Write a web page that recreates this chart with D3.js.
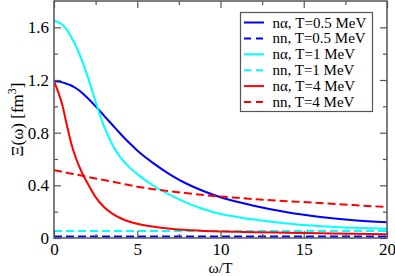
<!DOCTYPE html>
<html>
<head>
<meta charset="utf-8">
<script src="https://cdn.jsdelivr.net/npm/d3@7"></script>
<style>
  body { margin: 0; background: #fff; }
  svg text { font-family: "Liberation Serif", "Times New Roman", serif; fill: #000; }
</style>
</head>
<body>
<svg id="chart" width="395" height="276"></svg>
<script>
const svg = d3.select("#chart");
const width = 395, height = 276;
const margin = {left: 54, right: 8, top: 1, bottom: 38};

// omega/T sample points
const omega = [0, 0.25, 0.5, 0.75, 1, 1.25, 1.5, 1.75, 2, 2.5, 3, 3.5, 4, 4.5, 5, 6, 7, 8, 9, 10, 11, 12, 14, 16, 18, 20];

// Xi(omega) values
const naT05 = [1.19, 1.188, 1.182, 1.172, 1.16, 1.143, 1.122, 1.095, 1.065, 1.0, 0.93, 0.86, 0.79, 0.725, 0.665, 0.565, 0.48, 0.41, 0.355, 0.31, 0.275, 0.245, 0.195, 0.16, 0.135, 0.12];
const nnT05 = [0.012, 0.012, 0.012, 0.012, 0.012, 0.012, 0.012, 0.012, 0.012, 0.012, 0.012, 0.012, 0.012, 0.012, 0.012, 0.012, 0.012, 0.012, 0.012, 0.012, 0.012, 0.012, 0.012, 0.012, 0.012, 0.012];
const naT1 = [1.65, 1.64, 1.62, 1.585, 1.535, 1.475, 1.405, 1.325, 1.235, 1.035, 0.85, 0.71, 0.61, 0.54, 0.485, 0.395, 0.325, 0.265, 0.218, 0.183, 0.16, 0.14, 0.11, 0.09, 0.078, 0.07];
const nnT1 = [0.054, 0.054, 0.054, 0.054, 0.054, 0.054, 0.054, 0.054, 0.054, 0.054, 0.054, 0.054, 0.054, 0.054, 0.054, 0.054, 0.054, 0.054, 0.054, 0.054, 0.054, 0.054, 0.054, 0.054, 0.054, 0.054];
const naT4 = [1.19, 1.11, 1.01, 0.87, 0.735, 0.63, 0.548, 0.478, 0.42, 0.31, 0.235, 0.185, 0.15, 0.125, 0.108, 0.085, 0.07, 0.06, 0.054, 0.05, 0.047, 0.044, 0.04, 0.036, 0.032, 0.029];
const nnT4 = [0.515, 0.509, 0.503, 0.496, 0.49, 0.484, 0.478, 0.471, 0.465, 0.452, 0.44, 0.428, 0.415, 0.402, 0.39, 0.37, 0.355, 0.34, 0.326, 0.315, 0.305, 0.295, 0.28, 0.265, 0.25, 0.235];

const seriesNames = ["n\u03b1, T=0.5 MeV", "nn, T=0.5 MeV", "n\u03b1, T=1 MeV", "nn, T=1 MeV", "n\u03b1, T=4 MeV", "nn, T=4 MeV"];
const seriesColors = ["#0000ff", "#0000ff", "#00ffff", "#00ffff", "#ff0000", "#ff0000"];
const seriesDashed = [false, true, false, true, false, true];
const seriesValues = [naT05, nnT05, naT1, nnT1, naT4, nnT4];

const xTicks = [0, 5, 10, 15, 20];
const yTicks = [0, 0.4, 0.8, 1.2, 1.6];

const x = d3.scaleLinear().domain([0, 20]).range([margin.left, width - margin.right]);
const y = d3.scaleLinear().domain([0, 1.8]).range([height - margin.bottom, margin.top]);

svg.append("clipPath").attr("id", "clip")
  .append("rect")
  .attr("x", x(0)).attr("y", y(1.8))
  .attr("width", x(20) - x(0)).attr("height", y(0) - y(1.8));

const line = d3.line()
  .x(d => x(d[0]))
  .y(d => y(d[1]))
  .curve(d3.curveMonotoneX);

const plot = svg.append("g").attr("clip-path", "url(#clip)");
seriesValues.forEach((vals, i) => {
  plot.append("path")
    .datum(omega.map((w, j) => [w, vals[j]]))
    .attr("fill", "none")
    .attr("stroke", seriesColors[i])
    .attr("stroke-width", 2)
    .attr("stroke-dasharray", seriesDashed[i] ? "8,4" : null)
    .attr("d", line);
});

// frame and ticks (inward, all four sides)
const axisColor = "#555";
const xAxisB = d3.axisBottom(x).tickValues(xTicks).tickSize(-7).tickFormat(d3.format("d")).tickPadding(5);
const xAxisT = d3.axisTop(x).tickValues(xTicks).tickSize(-7).tickFormat("");
const yAxisL = d3.axisLeft(y).tickValues(yTicks).tickSize(-7).tickFormat(d => d === 0 ? "0" : d3.format(".1f")(d)).tickPadding(5);
const yAxisR = d3.axisRight(y).tickValues(yTicks).tickSize(-7).tickFormat("");
const xMinor = d3.range(2.5, 20, 5);
const yMinor = d3.range(0.2, 1.8, 0.4);

function styleAxis(g) {
  g.attr("font-family", null).attr("font-size", null);
  g.select(".domain").remove();
  g.selectAll(".tick line").attr("stroke", axisColor).attr("stroke-width", 1.2);
  g.selectAll(".tick text").style("font-size", "17px").attr("fill", "#000");
}

svg.append("g").attr("transform", `translate(0,${y(0)})`).call(xAxisB).call(styleAxis);
svg.append("g").attr("transform", `translate(0,${y(1.8)})`).call(xAxisT).call(styleAxis);
svg.append("g").attr("transform", `translate(${x(0)},0)`).call(yAxisL).call(styleAxis);
svg.append("g").attr("transform", `translate(${x(20)},0)`).call(yAxisR).call(styleAxis);

svg.append("g").attr("transform", `translate(0,${y(0)})`)
  .call(d3.axisBottom(x).tickValues(xMinor).tickSize(-4).tickFormat("")).call(styleAxis);
svg.append("g").attr("transform", `translate(0,${y(1.8)})`)
  .call(d3.axisTop(x).tickValues(xMinor).tickSize(-4).tickFormat("")).call(styleAxis);
svg.append("g").attr("transform", `translate(${x(0)},0)`)
  .call(d3.axisLeft(y).tickValues(yMinor).tickSize(-4).tickFormat("")).call(styleAxis);
svg.append("g").attr("transform", `translate(${x(20)},0)`)
  .call(d3.axisRight(y).tickValues(yMinor).tickSize(-4).tickFormat("")).call(styleAxis);

svg.append("rect")
  .attr("x", x(0)).attr("y", y(1.8))
  .attr("width", x(20) - x(0)).attr("height", y(0) - y(1.8))
  .attr("fill", "none").attr("stroke", axisColor).attr("stroke-width", 1.5);

// axis titles
svg.append("text")
  .attr("x", (x(0) + x(20)) / 2).attr("y", 273)
  .attr("text-anchor", "middle").style("font-size", "15.5px")
  .text("\u03c9/T");

const yl = svg.append("text")
  .attr("transform", `translate(23,${(y(0) + y(1.8)) / 2}) rotate(-90)`)
  .attr("text-anchor", "middle").style("font-size", "17px");
yl.append("tspan").text("\u039e(\u03c9) [fm");
yl.append("tspan").style("font-size", "12px").attr("dy", -7).text("3");
yl.append("tspan").attr("dy", 7).text("]");

// legend
const leg = svg.append("g");
leg.append("rect")
  .attr("x", 240.5).attr("y", 12.5).attr("width", 132).attr("height", 99)
  .attr("fill", "#fff").attr("stroke", axisColor).attr("stroke-width", 1.2);
seriesNames.forEach((name, i) => {
  const cy = 22.5 + i * 15.9;
  leg.append("line")
    .attr("x1", 244).attr("x2", 264).attr("y1", cy).attr("y2", cy)
    .attr("stroke", seriesColors[i]).attr("stroke-width", 2)
    .attr("stroke-dasharray", seriesDashed[i] ? "7,5" : null);
  leg.append("text")
    .attr("x", 272.5).attr("y", cy + 5)
    .style("font-size", "15px")
    .text(name);
});
</script>
</body>
</html>
